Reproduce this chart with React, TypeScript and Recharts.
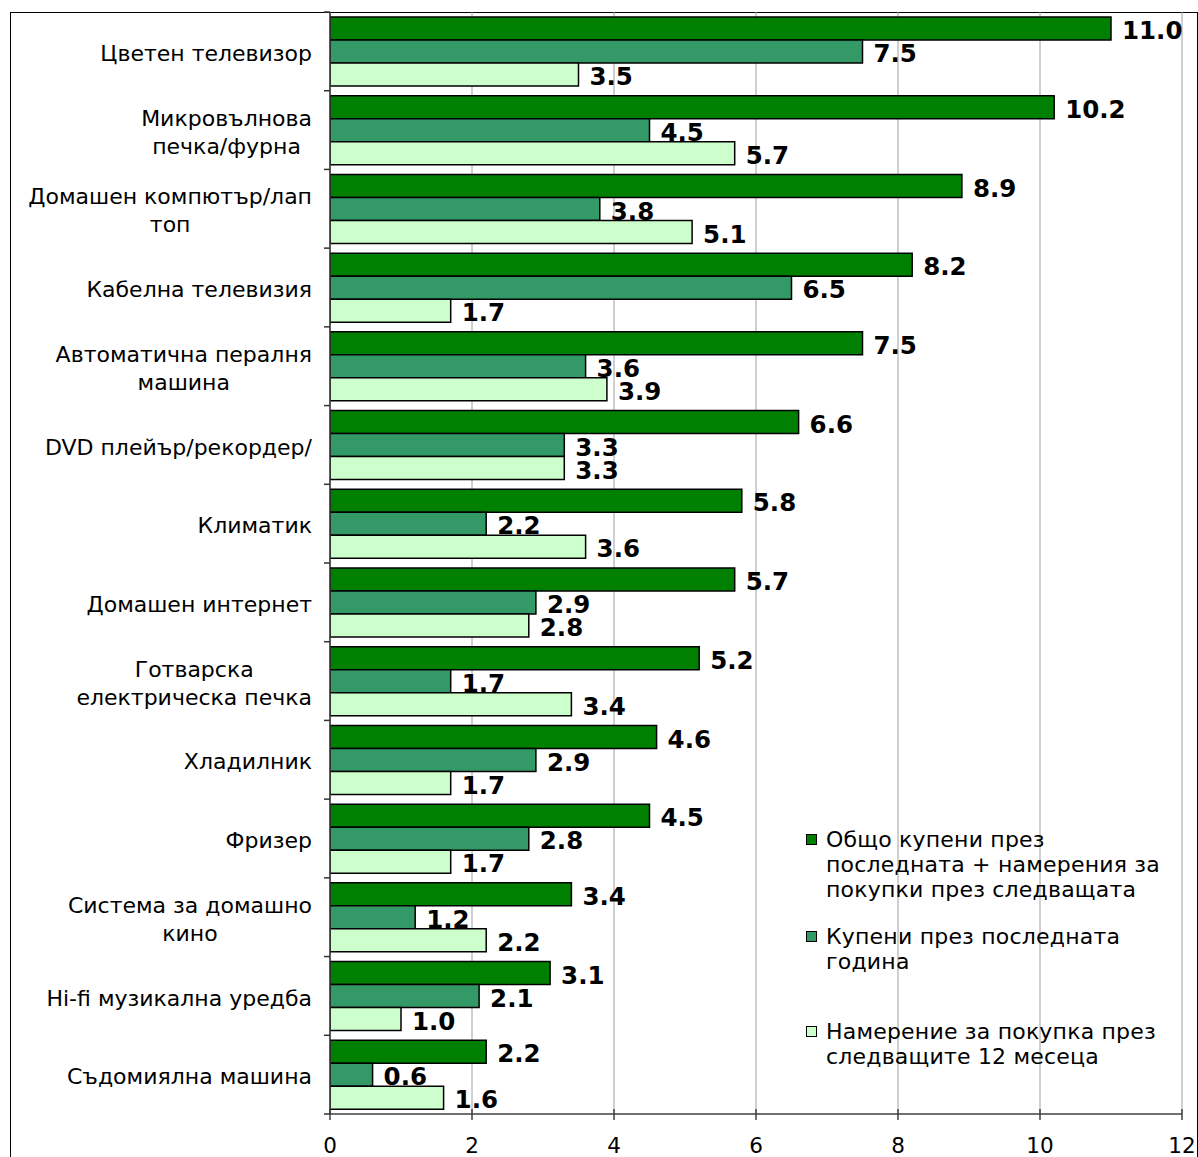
import React, { useLayoutEffect } from 'react';
import { BarChart, Bar, XAxis, YAxis, CartesianGrid, Legend, LabelList } from 'recharts';

const categories = [
  'Цветен телевизор',
  'Микровълнова\nпечка/фурна',
  'Домашен компютър/лап\nтоп',
  'Кабелна телевизия',
  'Автоматична пералня\nмашина',
  'DVD плейър/рекордер/',
  'Климатик',
  'Домашен интернет',
  'Готварска\nелектрическа печка',
  'Хладилник',
  'Фризер',
  'Система за домашно\nкино',
  'Hi-fi музикална уредба',
  'Съдомиялна машина',
];
const totalValues = [11.0, 10.2, 8.9, 8.2, 7.5, 6.6, 5.8, 5.7, 5.2, 4.6, 4.5, 3.4, 3.1, 2.2];
const boughtValues = [7.5, 4.5, 3.8, 6.5, 3.6, 3.3, 2.2, 2.9, 1.7, 2.9, 2.8, 1.2, 2.1, 0.6];
const intendValues = [3.5, 5.7, 5.1, 1.7, 3.9, 3.3, 3.6, 2.8, 3.4, 1.7, 1.7, 2.2, 1.0, 1.6];
const xTicks = [0, 2, 4, 6, 8, 10, 12];
const seriesKeys = ['total', 'bought', 'intend'];
const seriesNames = [
  'Общо купени през\nпоследната + намерения за\nпокупки през следващата',
  'Купени през последната\nгодина',
  'Намерение за покупка през\nследващите 12 месеца',
];
const seriesColors = ['#008000', '#339966', '#CCFFCC'];

const data = categories.map((name, i) => ({
  name,
  total: totalValues[i],
  bought: boughtValues[i],
  intend: intendValues[i],
}));

const FONT = '"DejaVu Sans", Verdana, sans-serif';
const CAT_FONT_SIZE = 22;
const CHART_W = 1198;
const CHART_H = 1157;
const MARGIN = { top: 12, right: 16, bottom: 0, left: 0 };
const X_AXIS_H = 43;
const Y_AXIS_W = 330;
const PLOT_H = CHART_H - MARGIN.top - MARGIN.bottom - X_AXIS_H;
const BAND = PLOT_H / categories.length;

let measureCtx: CanvasRenderingContext2D | null = null;
function measure(text: string, font: string): number {
  if (!measureCtx) {
    const c = document.createElement('canvas');
    measureCtx = c.getContext('2d');
  }
  if (!measureCtx) return text.length * 12;
  measureCtx.font = font;
  return measureCtx.measureText(text).width;
}

const YTick = (props: any) => {
  const { x, y, payload, index } = props;
  const lines = String(payload.value).split('\n');
  const lh = 28;
  const widths = lines.map((l) => measure(l, `${CAT_FONT_SIZE}px ${FONT}`));
  const maxW = Math.max(...widths);
  const cx = x - 18 - maxW / 2;
  const y0 = y + 2 - ((lines.length - 1) * lh) / 2;
  const half = BAND / 2;
  return (
    <g>
      <line x1={x - 6} x2={x} y1={y + half} y2={y + half} stroke="#333" strokeWidth={1.5} />
      {index === 0 && <line x1={x - 6} x2={x} y1={y - half} y2={y - half} stroke="#333" strokeWidth={1.5} />}
      <text textAnchor="middle" fontFamily={FONT} fontSize={CAT_FONT_SIZE} fill="#000">
        {lines.map((l, i) => (
          <tspan key={i} x={cx} y={y0 + i * lh} dy="0.35em">
            {l}
          </tspan>
        ))}
      </text>
    </g>
  );
};

const XTick = (props: any) => {
  const { x, y, payload } = props;
  return (
    <g>
      <line x1={x} x2={x} y1={y - 5} y2={y + 6} stroke="#404040" strokeWidth={1.5} />
      <text x={x} y={y + 31} dy="0.35em" textAnchor="middle" fontFamily={FONT} fontSize={21.5} fill="#000">
        {payload.value}
      </text>
    </g>
  );
};

const renderValueLabel = (props: any) => {
  const { x, y, width, height, value } = props;
  return (
    <text
      x={Number(x) + Number(width) + 11}
      y={Number(y) + Number(height) / 2 + 2}
      dy="0.35em"
      fontFamily={FONT}
      fontWeight="bold"
      fontSize={24.5}
      fill="#000"
    >
      {Number(value).toFixed(1)}
    </text>
  );
};

const LegendBox = () => {
  const gaps = [0, 22, 45];
  return (
    <div style={{ fontFamily: FONT, fontSize: 22, lineHeight: '25px', color: '#000' }}>
      {seriesNames.map((n, i) => (
        <div key={i} style={{ display: 'flex', alignItems: 'flex-start', marginTop: gaps[i] }}>
          <div
            style={{
              width: 9,
              height: 9,
              marginTop: 7,
              marginRight: 9,
              border: '1.5px solid #000',
              background: seriesColors[i],
              flex: '0 0 auto',
            }}
          />
          <div style={{ whiteSpace: 'pre', letterSpacing: 0.2 }}>{n}</div>
        </div>
      ))}
    </div>
  );
};

export default function App() {
  useLayoutEffect(() => {
    document.documentElement.style.overflow = 'hidden';
    document.body.style.overflow = 'hidden';
    document.body.style.margin = '0';
  }, []);
  return (
    <div style={{ position: 'relative', width: CHART_W, height: CHART_H, overflow: 'hidden' }}>
      <div
        style={{
          position: 'absolute',
          left: 10,
          top: 12,
          width: 1188,
          height: 1200,
          border: '1px solid #000',
          boxSizing: 'border-box',
          pointerEvents: 'none',
        }}
      />
      <BarChart
        width={CHART_W}
        height={CHART_H}
        data={data}
        layout="vertical"
        margin={MARGIN}
        barCategoryGap={5}
        barGap={0}
      >
        <CartesianGrid horizontal={false} vertical={true} stroke="#a0a0a0" strokeWidth={1} />
        <XAxis
          type="number"
          domain={[0, 12]}
          ticks={xTicks}
          interval={0}
          height={X_AXIS_H}
          tickSize={0}
          tickMargin={0}
          tickLine={false}
          axisLine={{ stroke: '#404040', strokeWidth: 1.5 }}
          tick={<XTick />}
          allowDataOverflow
        />
        <YAxis
          type="category"
          dataKey="name"
          width={Y_AXIS_W}
          interval={0}
          tickSize={0}
          tickMargin={0}
          tickLine={false}
          axisLine={{ stroke: '#333', strokeWidth: 1.5 }}
          tick={<YTick />}
        />
        <Legend
          layout="vertical"
          align="center"
          verticalAlign="middle"
          wrapperStyle={{ position: 'absolute', left: 806, top: 827, width: 385 }}
          content={() => <LegendBox />}
        />
        {seriesKeys.map((k, i) => (
          <Bar
            key={k}
            dataKey={k}
            name={seriesNames[i]}
            fill={seriesColors[i]}
            stroke="#000"
            strokeWidth={1.5}
            isAnimationActive={false}
          >
            <LabelList dataKey={k} content={renderValueLabel} />
          </Bar>
        ))}
      </BarChart>
    </div>
  );
}
